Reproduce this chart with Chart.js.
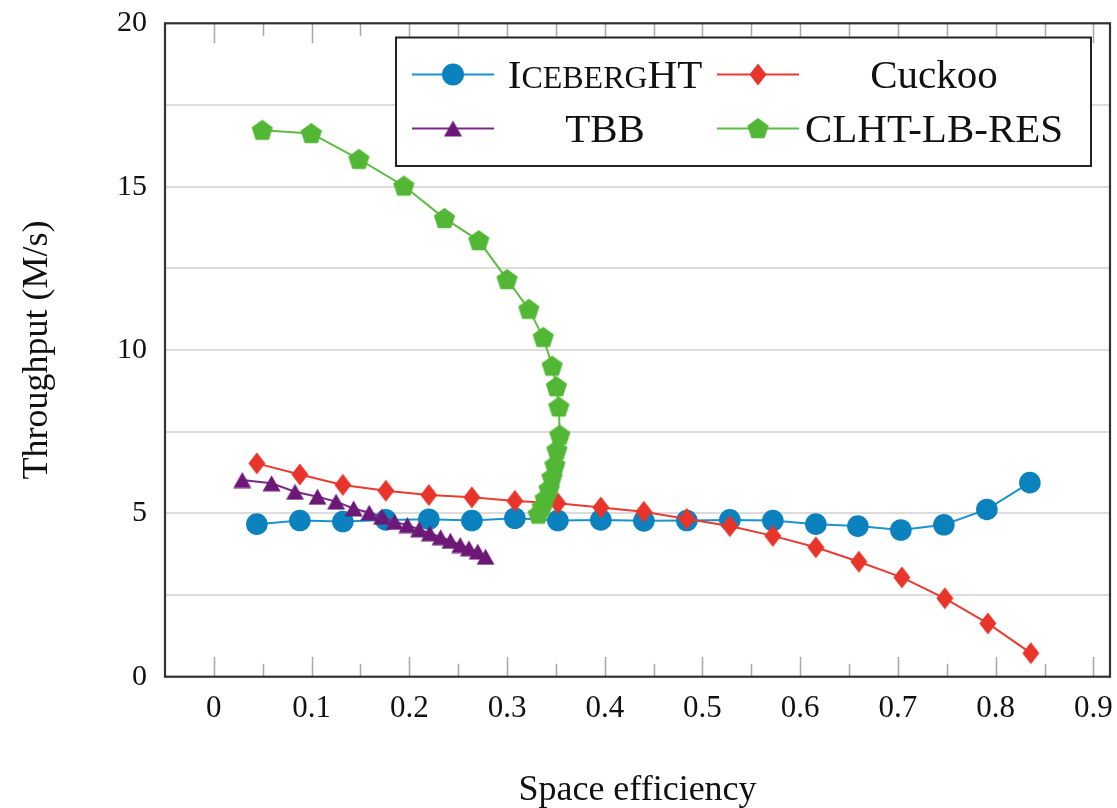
<!DOCTYPE html>
<html><head><meta charset="utf-8">
<script src="https://cdn.jsdelivr.net/npm/chart.js@4/dist/chart.umd.min.js"></script>
<style>html,body{margin:0;padding:0;background:#fff;overflow:hidden}canvas{display:block}</style>
</head><body>
<canvas id="c" width="1117" height="808"></canvas>
<script>
// ---------- data ----------
const seriesNames = ['IcebergHT', 'Cuckoo', 'TBB', 'CLHT-LB-RES'];

const iceX = [0.044,0.088,0.132,0.176,0.220,0.264,0.308,0.352,0.396,0.440,0.484,0.528,0.572,0.616,0.659,0.703,0.747,0.791,0.835];
const iceY = [4.67,4.78,4.75,4.80,4.82,4.78,4.85,4.78,4.80,4.77,4.78,4.80,4.78,4.67,4.61,4.49,4.65,5.12,5.94];

const cuckooX = [0.044,0.088,0.132,0.176,0.220,0.264,0.308,0.352,0.396,0.440,0.484,0.528,0.572,0.616,0.660,0.704,0.748,0.792,0.836];
const cuckooY = [6.53,6.19,5.87,5.69,5.56,5.49,5.38,5.31,5.18,5.05,4.83,4.61,4.31,3.96,3.52,3.04,2.40,1.63,0.72];

const tbbX = [0.029,0.059,0.083,0.106,0.125,0.143,0.159,0.172,0.185,0.198,0.210,0.221,0.232,0.242,0.252,0.261,0.270,0.278];
const tbbY = [6.02,5.92,5.66,5.51,5.36,5.15,5.02,4.90,4.74,4.64,4.51,4.39,4.27,4.16,4.03,3.93,3.83,3.67];

const clhtX = [0.0495,0.0997,0.1484,0.1944,0.2360,0.2711,0.300,0.3223,0.337,0.3462,0.3505,0.353,0.354,0.351,0.349,0.346,0.343,0.339,0.336,0.332];
const clhtY = [16.73,16.63,15.84,15.02,14.03,13.35,12.16,11.25,10.39,9.51,8.88,8.26,7.40,6.94,6.48,6.10,5.75,5.45,5.20,4.98];

const xTickValues = [0,0.1,0.2,0.3,0.4,0.5,0.6,0.7,0.8,0.9];
const xTickLabels = ['0','0.1','0.2','0.3','0.4','0.5','0.6','0.7','0.8','0.9'];
const xMinorTickValues = [0.05,0.15,0.25,0.35,0.45,0.55,0.65,0.75,0.85];
const yGridValues = [0,2.5,5,7.5,10,12.5,15,17.5,20];
const yTickLabels = ['0','','5','','10','','15','','20'];

// ---------- styling ----------
const FONT = '"Liberation Serif", "Times New Roman", serif';
const colors = {
  ice: {marker:'#0b82be', line:'#1a93cf'},
  cuckoo: {marker:'#e8342a', line:'#ea3b30'},
  tbb: {marker:'#6c1877', line:'#7a2a86'},
  clht: {marker:'#52b734', line:'#5dbd40'}
};

function makeCanvas(w, h, draw) {
  const c = document.createElement('canvas');
  c.width = w; c.height = h;
  const g = c.getContext('2d');
  draw(g, w, h);
  return c;
}
const diamondImg = makeCanvas(18, 23, (g, w, h) => {
  g.fillStyle = colors.cuckoo.marker;
  g.beginPath(); g.moveTo(w/2, 0.5); g.lineTo(w-0.5, h/2); g.lineTo(w/2, h-0.5); g.lineTo(0.5, h/2); g.closePath(); g.fill();
});
const triangleImg = makeCanvas(19, 17, (g, w, h) => {
  g.fillStyle = colors.tbb.marker;
  g.beginPath(); g.moveTo(w/2, 0.5); g.lineTo(w-0.5, h-0.5); g.lineTo(0.5, h-0.5); g.closePath(); g.fill();
});
const pentagonImg = makeCanvas(23, 23, (g, w, h) => {
  g.fillStyle = colors.clht.marker;
  const r = 11.2, cx = w/2, cy = h/2 + 0.8;
  g.beginPath();
  for (let i = 0; i < 5; i++) {
    const a = -Math.PI/2 + i * 2 * Math.PI / 5;
    const px = cx + r * Math.cos(a), py = cy + r * Math.sin(a);
    if (i === 0) g.moveTo(px, py); else g.lineTo(px, py);
  }
  g.closePath(); g.fill();
});

const zip = (xs, ys) => xs.map((x, i) => ({x, y: ys[i]}));
const noPadding = () => ({left: 0, right: 0, top: 0, bottom: 0});

// ---------- plugins ----------
const framePlugin = {
  id: 'frame',
  beforeDatasetsDraw(chart) {
    const {ctx, chartArea: a, scales: {x}} = chart;
    ctx.save();
    ctx.strokeStyle = '#a8a8a8';
    ctx.lineWidth = 1.5;
    const drawTick = (v, len) => {
      const px = Math.round(x.getPixelForValue(v)) + 0.5;
      ctx.beginPath();
      ctx.moveTo(px, a.bottom); ctx.lineTo(px, a.bottom - len);
      ctx.moveTo(px, a.top); ctx.lineTo(px, a.top + len);
      ctx.stroke();
    };
    xTickValues.forEach(v => drawTick(v, 20));
    xMinorTickValues.forEach(v => drawTick(v, 13));
    ctx.strokeStyle = '#333';
    ctx.lineWidth = 2.2;
    ctx.strokeRect(a.left, a.top, a.right - a.left, a.bottom - a.top);
    ctx.restore();
  }
};

const legendPlugin = {
  id: 'customLegend',
  afterDraw(chart) {
    const ctx = chart.ctx;
    const box = {l: 396, t: 37.5, r: 1091, b: 166};
    ctx.save();
    ctx.fillStyle = '#fff';
    ctx.fillRect(box.l, box.t, box.r - box.l, box.b - box.t);
    ctx.strokeStyle = '#222';
    ctx.lineWidth = 2;
    ctx.strokeRect(box.l, box.t, box.r - box.l, box.b - box.t);

    const rows = [74.5, 128.5];
    const cols = [{l0: 412, l1: 494, m: 453, tc: 605}, {l0: 717, l1: 799, m: 758, tc: 934}];
    const entries = [
      {name: seriesNames[0], col: 0, row: 0, c: colors.ice, marker: 'circle'},
      {name: seriesNames[1], col: 1, row: 0, c: colors.cuckoo, marker: diamondImg},
      {name: seriesNames[2], col: 0, row: 1, c: colors.tbb, marker: triangleImg},
      {name: seriesNames[3], col: 1, row: 1, c: colors.clht, marker: pentagonImg}
    ];
    entries.forEach(e => {
      const col = cols[e.col], y = rows[e.row];
      ctx.strokeStyle = e.c.line;
      ctx.lineWidth = 2;
      ctx.beginPath(); ctx.moveTo(col.l0, y); ctx.lineTo(col.l1, y); ctx.stroke();
      if (e.marker === 'circle') {
        ctx.fillStyle = e.c.marker;
        ctx.beginPath(); ctx.arc(col.m, y, 11, 0, Math.PI * 2); ctx.fill();
      } else {
        ctx.drawImage(e.marker, col.m - e.marker.width/2, y - e.marker.height/2);
      }
      ctx.fillStyle = '#111';
      ctx.textBaseline = 'alphabetic';
      const base = y + 13.5;
      if (e.name === 'IcebergHT') {
        const parts = [['I', 41], ['CEBERG', 32], ['HT', 41]];
        let total = 0;
        parts.forEach(p => { ctx.font = p[1] + 'px ' + FONT; total += ctx.measureText(p[0]).width; });
        let x = col.tc - total / 2;
        ctx.textAlign = 'left';
        parts.forEach(p => { ctx.font = p[1] + 'px ' + FONT; ctx.fillText(p[0], x, base); x += ctx.measureText(p[0]).width; });
      } else {
        ctx.font = '41px ' + FONT;
        ctx.textAlign = 'center';
        ctx.fillText(e.name, col.tc, base);
      }
    });
    ctx.restore();
  }
};

// ---------- chart ----------
new Chart(document.getElementById('c'), {
  type: 'scatter',
  data: {
    datasets: [
      {label: seriesNames[0], data: zip(iceX, iceY), showLine: true, order: 4,
       borderColor: colors.ice.line, borderWidth: 2, pointStyle: 'circle', pointRadius: 10.8,
       pointBackgroundColor: colors.ice.marker, pointBorderColor: colors.ice.marker, pointBorderWidth: 0},
      {label: seriesNames[1], data: zip(cuckooX, cuckooY), showLine: true, order: 3,
       borderColor: colors.cuckoo.line, borderWidth: 2, pointStyle: diamondImg, pointRadius: 10},
      {label: seriesNames[2], data: zip(tbbX, tbbY), showLine: true, order: 2,
       borderColor: colors.tbb.line, borderWidth: 2, pointStyle: triangleImg, pointRadius: 9},
      {label: seriesNames[3], data: zip(clhtX, clhtY), showLine: true, order: 1,
       borderColor: colors.clht.line, borderWidth: 2, pointStyle: pentagonImg, pointRadius: 10}
    ]
  },
  options: {
    responsive: false,
    devicePixelRatio: 1,
    animation: false,
    events: [],
    layout: {autoPadding: false, padding: {top: 23.3, right: 7, left: 0, bottom: 0}},
    plugins: {legend: {display: false}, tooltip: {enabled: false}},
    scales: {
      x: {
        type: 'linear', min: -0.05, max: 0.917,
        afterBuildTicks: s => { s.ticks = xTickValues.map(v => ({value: v})); },
        afterFit: s => { s.height = 131.3; s.paddingLeft = 0; s.paddingRight = 0; s.getPadding = noPadding; },
        grid: {display: false},
        border: {display: false},
        ticks: {callback: (v, i) => xTickLabels[i], color: '#111', font: {family: FONT, size: 31}, padding: 6, maxRotation: 0, autoSkip: false},
        title: {display: true, text: 'Space efficiency', color: '#111', font: {family: FONT, size: 36, lineHeight: 0.95}, padding: {top: 0, bottom: 0}}
      },
      y: {
        type: 'linear', min: 0, max: 20,
        afterBuildTicks: s => { s.ticks = yGridValues.map(v => ({value: v})); },
        afterFit: s => { s.width = 165; s.paddingTop = 0; s.paddingBottom = 0; s.getPadding = noPadding; },
        grid: {color: '#dcdcdc', lineWidth: 2, drawTicks: false},
        border: {display: false},
        ticks: {callback: (v, i) => yTickLabels[i], color: '#111', font: {family: FONT, size: 30}, padding: 18, autoSkip: false},
        title: {display: true, text: 'Throughput (M/s)', color: '#111', font: {family: FONT, size: 36}, padding: {top: 16, bottom: 0}}
      }
    }
  },
  plugins: [framePlugin, legendPlugin]
});
</script>
</body></html>
